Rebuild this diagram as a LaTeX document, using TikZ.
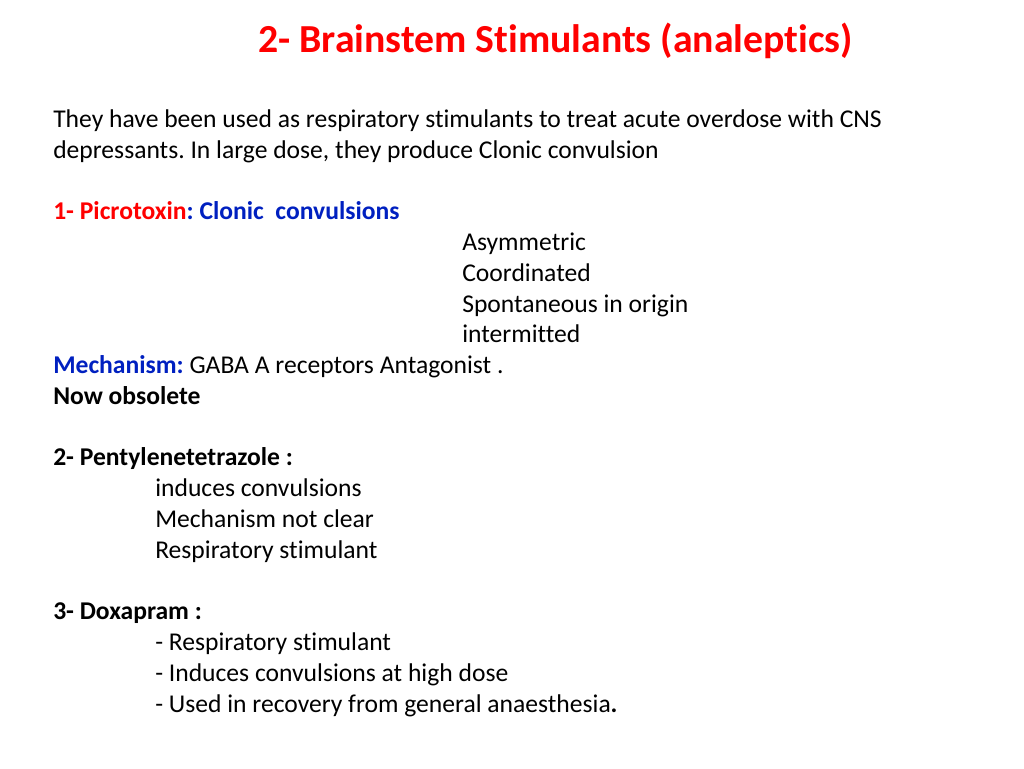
\documentclass[tikz,border=0pt]{standalone}
\usepackage{fontspec}
\setmainfont[Ligatures={NoCommon}]{Carlito}
\frenchspacing
\definecolor{tred}{RGB}{255,0,0}
\definecolor{tblue}{RGB}{0,32,192}
\begin{document}
\begin{tikzpicture}[x=0.75pt,y=-0.75pt,
  txt/.style={anchor=base west,inner sep=0pt,font=\fontsize{19.2}{22}\selectfont}]
\useasboundingbox (0,0) rectangle (1024,768);
\node[anchor=base west,inner sep=0pt,font=\fontsize{29.8}{34}\selectfont\bfseries,text=tred] (title) at (258,52) {2- Brainstem Stimulants (analeptics)};
\node[txt] (l1) at (53,127) {They have been used as respiratory stimulants to treat acute overdose with CNS};
\node[txt] (l2) at (53,158) {depressants. In large dose, they produce Clonic convulsion};
\node[txt] (l3) at (53,219) {\bfseries\textcolor{tred}{1- Picrotoxin}\textcolor{tblue}{ : Clonic\ \ convulsions}};
\node[txt] (a1) at (462,250) {Asymmetric};
\node[txt] (a2) at (462,281) {Coordinated};
\node[txt] (a3) at (462,312) {Spontaneous in origin};
\node[txt] (a4) at (462,342) {intermitted};
\node[txt] (m) at (53,373) {\textbf{\textcolor{tblue}{Mechanism:}} GABA A receptors Antagonist .};
\node[txt] (o) at (53,404) {\bfseries Now obsolete};
\node[txt] (p) at (53,465) {\bfseries 2- Pentylenetetrazole :};
\node[txt] (p1) at (155,496) {induces convulsions};
\node[txt] (p2) at (155,527) {Mechanism not clear};
\node[txt] (p3) at (155,558) {Respiratory stimulant};
\node[txt] (d) at (53,619) {\bfseries 3- Doxapram :};
\node[txt] (d1) at (155,650) {- Respiratory stimulant};
\node[txt] (d2) at (155,681) {- Induces convulsions at high dose};
\node[txt] (d3) at (155,712) {- Used in recovery from general anaesthesia\textbf{.}};
\end{tikzpicture}
\end{document}
